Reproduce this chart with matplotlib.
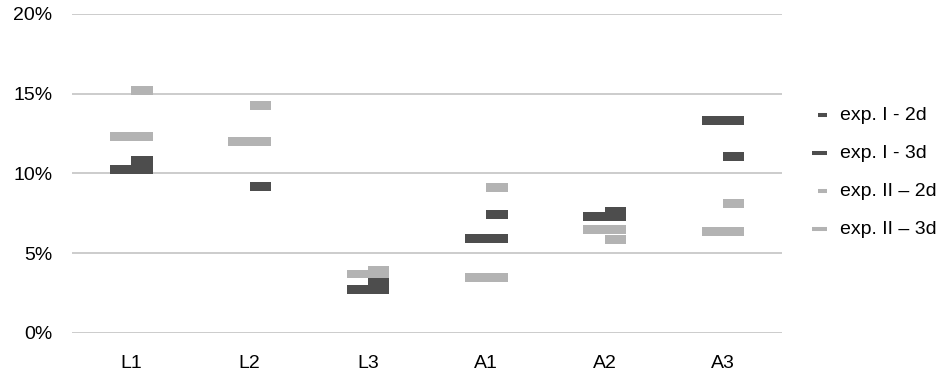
import matplotlib.pyplot as plt
from matplotlib.lines import Line2D
import numpy as np

plt.rcParams['font.family'] = ['Liberation Sans', 'DejaVu Sans']

# values (percent)
categories = ["L1", "L2", "L3", "A1", "A2", "A3"]
exp1_2d = [10.8, 9.2, 3.15, 7.45, 7.6, 11.05]
exp1_3d = [10.25, 12.0, 2.7, 5.9, 7.3, 13.3]
exp2_2d = [15.2, 14.25, 3.95, 9.1, 5.85, 8.1]
exp2_3d = [12.3, 12.0, 3.7, 3.45, 6.5, 6.35]
labels = ["exp. I - 2d", "exp. I - 3d", "exp. II \u2013 2d", "exp. II \u2013 3d"]

dark = "#4d4d4d"
light = "#b3b3b3"

fig = plt.figure(figsize=(9.49, 3.80), dpi=100)
ax = fig.add_axes([0.0759, 0.1237, 0.7484, 0.8395])

x = np.arange(len(categories))
h = 0.56  # marker thickness in %

series = [
    (exp1_2d, dark, 0.0, 0.18),
    (exp1_3d, dark, -0.18, 0.36),
    (exp2_2d, light, 0.0, 0.18),
    (exp2_3d, light, -0.18, 0.36),
]
for i, (vals, col, off, w) in enumerate(series):
    vals = np.array(vals)
    ax.bar(x + off, h, width=w, bottom=vals - h / 2, align='edge',
           color=col, edgecolor='none', zorder=3 + i)

ax.set_xlim(-0.5, len(categories) - 0.5)
ax.set_ylim(0, 20)
ax.set_yticks([0, 5, 10, 15, 20])
ax.set_yticklabels(["0%", "5%", "10%", "15%", "20%"])
ax.set_xticks(x)
ax.set_xticklabels(categories)
ax.tick_params(length=0, labelsize=14, colors='black')
ax.tick_params(axis='y', pad=14)
ax.tick_params(axis='x', pad=16)
ax.grid(axis='y', color='#c4c4c4', linewidth=1.2)
ax.set_axisbelow(True)
for s in ax.spines.values():
    s.set_visible(False)

# legend drawn by hand: short dash for 2d, long dash for 3d, right-aligned
W, H = 949, 380
rows = [115, 153, 191, 229]
colors = [dark, dark, light, light]
starts = [818, 812, 818, 812]
for y, col, x0, lab in zip(rows, colors, starts, labels):
    yf = 1 - y / H
    fig.add_artist(Line2D([x0 / W, 827 / W], [yf, yf], color=col,
                          linewidth=2.9, solid_capstyle='butt'))
    fig.text(840 / W, yf, lab, fontsize=14, va='center', ha='left')

fig.savefig("out.png", dpi=100)
